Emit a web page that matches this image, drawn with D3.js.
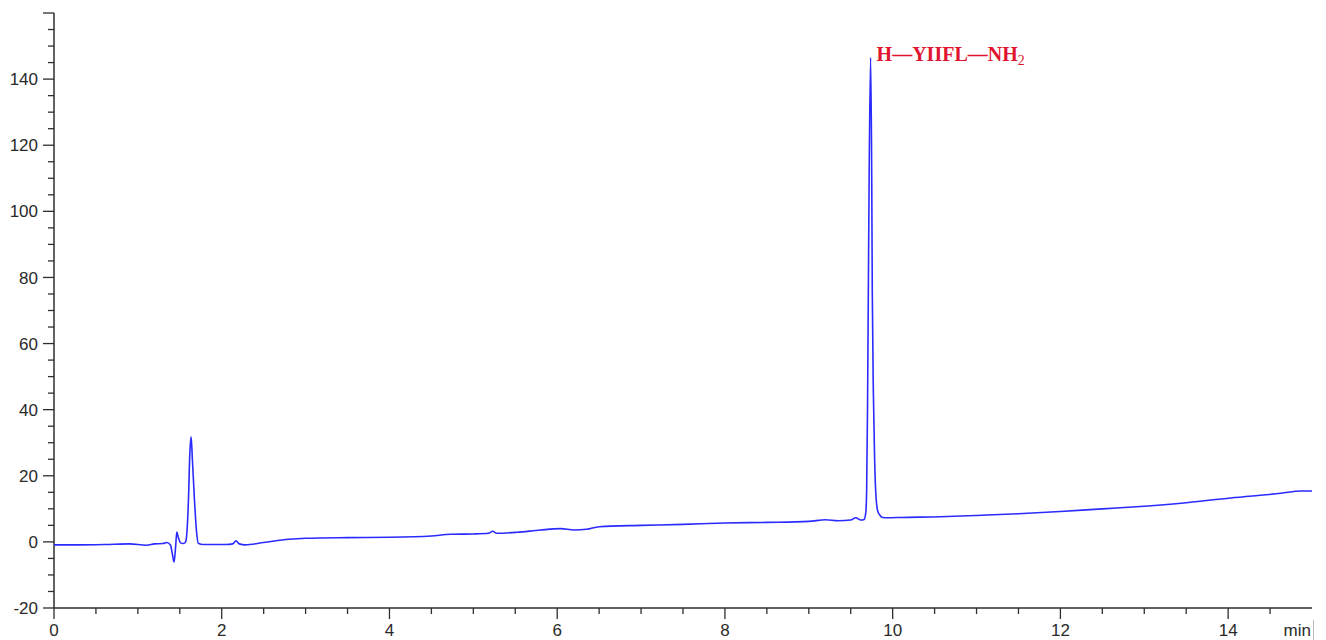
<!DOCTYPE html>
<html>
<head>
<meta charset="utf-8">
<script src="https://cdn.jsdelivr.net/npm/d3@7"></script>
<style>
  html, body { margin: 0; padding: 0; background: #fff; }
  svg { display: block; }
</style>
</head>
<body>
<svg id="chart" width="1326" height="640"></svg>
<script>
// ---- data ----
const times = [0, 0.3, 0.6, 0.9, 1.1, 1.2, 1.3, 1.345, 1.39, 1.41, 1.432, 1.45, 1.464, 1.48, 1.51, 1.543,
  1.57, 1.59, 1.603, 1.62, 1.635, 1.65, 1.675, 1.70, 1.72, 1.78, 1.9, 2.05, 2.13, 2.17, 2.21, 2.28, 2.5,
  2.8, 3.0, 3.5, 4.0, 4.5, 4.73, 5.0, 5.18, 5.23, 5.28, 5.52, 5.8, 6.04, 6.2, 6.35, 6.5, 7.0, 7.5, 8.0,
  8.5, 9.0, 9.2, 9.35, 9.5, 9.56, 9.62, 9.66, 9.68, 9.69, 9.70, 9.71, 9.72, 9.737, 9.75, 9.757, 9.77,
  9.785, 9.797, 9.82, 9.85, 9.88, 9.95, 10.1, 10.57, 11.0, 11.5, 12.0, 12.5, 13.0, 13.44, 14.03, 14.63,
  14.87, 15.0];
const signal = [-0.9, -0.9, -0.8, -0.6, -1.0, -0.6, -0.5, -0.2, -1.0, -3.5, -6.1, -1.5, 3.0, 1.5, -0.3, -0.5,
  0, 5, 12.6, 27, 31.8, 25, 12.6, 3, -0.4, -0.8, -0.8, -0.8, -0.6, 0.3, -0.6, -0.9, -0.2,
  0.8, 1.1, 1.3, 1.4, 1.8, 2.3, 2.4, 2.6, 3.2, 2.6, 2.9, 3.6, 4.0, 3.6, 3.8, 4.6, 5.0, 5.3, 5.7,
  5.9, 6.2, 6.7, 6.4, 6.6, 7.3, 6.6, 6.8, 9, 16, 40, 76, 112, 146.5, 112, 76, 45,
  25, 15.6, 9.5, 8, 7.4, 7.3, 7.4, 7.6, 8.0, 8.5, 9.2, 10.0, 10.8, 11.7, 13.3, 14.7,
  15.4, 15.4];
const xTickValues = [0, 2, 4, 6, 8, 10, 12, 14];
const yTickValues = [-20, 0, 20, 40, 60, 80, 100, 120, 140];
const xDomain = [0, 15];
const yDomain = [-20, 160];
const xUnit = "min";
const peakLabel = { time: 9.737, main: "H\u2014YIIFL\u2014NH", sub: "2" };

// ---- layout ----
const svg = d3.select("#chart");
const mLeft = 54, mRight = 1312, mTop = 13, mBottom = 608;
const x = d3.scaleLinear().domain(xDomain).range([mLeft, mRight]);
const y = d3.scaleLinear().domain(yDomain).range([mBottom, mTop]);
const axisColor = "#2e2e2e";
const font = "'Liberation Sans', Arial, sans-serif";

// minor ticks
const xMinor = d3.range(xDomain[0], xDomain[1], 0.5).filter(v => v % 2 !== 0);
const yMinor = d3.range(yDomain[0], yDomain[1] + 0.01, 5).filter(v => v % 20 !== 0);

// x axis
const gx = svg.append("g").attr("transform", `translate(0,${mBottom})`);
gx.append("line").attr("x1", mLeft).attr("x2", mRight).attr("y1", 0).attr("y2", 0)
  .attr("stroke", axisColor).attr("stroke-width", 1.5);
gx.selectAll("line.minor").data(xMinor).join("line").attr("class", "minor")
  .attr("x1", d => x(d)).attr("x2", d => x(d)).attr("y1", 0).attr("y2", 6)
  .attr("stroke", axisColor).attr("stroke-width", 1.3);
gx.selectAll("line.major").data(xTickValues).join("line").attr("class", "major")
  .attr("x1", d => x(d)).attr("x2", d => x(d)).attr("y1", 0).attr("y2", 11)
  .attr("stroke", axisColor).attr("stroke-width", 1.3);
gx.selectAll("text").data(xTickValues).join("text")
  .attr("x", d => x(d)).attr("y", 28).attr("text-anchor", "middle")
  .attr("font-family", font).attr("font-size", 17).attr("fill", "#2a2a2a")
  .text(d => d);
svg.append("text").attr("x", 1311).attr("y", 636).attr("text-anchor", "end")
  .attr("font-family", font).attr("font-size", 17).attr("fill", "#2a2a2a").text(xUnit);
svg.append("line").attr("x1", 1313.5).attr("x2", 1313.5).attr("y1", 620).attr("y2", 640)
  .attr("stroke", "#bbb").attr("stroke-width", 1);

// y axis
const gy = svg.append("g").attr("transform", `translate(${mLeft},0)`);
gy.append("line").attr("x1", 0).attr("x2", 0).attr("y1", mTop).attr("y2", mBottom)
  .attr("stroke", axisColor).attr("stroke-width", 1.5);
gy.selectAll("line.minor").data(yMinor).join("line").attr("class", "minor")
  .attr("x1", 0).attr("x2", -6).attr("y1", d => y(d)).attr("y2", d => y(d))
  .attr("stroke", axisColor).attr("stroke-width", 1.3);
gy.selectAll("line.major").data(yTickValues.concat([yDomain[1]])).join("line").attr("class", "major")
  .attr("x1", 0).attr("x2", -11).attr("y1", d => y(d)).attr("y2", d => y(d))
  .attr("stroke", axisColor).attr("stroke-width", 1.3);
gy.selectAll("text").data(yTickValues).join("text")
  .attr("x", -16).attr("y", d => y(d)).attr("dy", "0.36em").attr("text-anchor", "end")
  .attr("font-family", font).attr("font-size", 17).attr("fill", "#2a2a2a")
  .text(d => d);

// trace
const pts = times.map((t, i) => [t, signal[i]]);
const line = d3.line().x(d => x(d[0])).y(d => y(d[1])).curve(d3.curveMonotoneX);
svg.append("path").datum(pts).attr("d", line)
  .attr("fill", "none").attr("stroke", "#2b2bff").attr("stroke-width", 1.6)
  .attr("stroke-linejoin", "round");

// peak label
const lbl = svg.append("text").attr("x", x(peakLabel.time) + 6).attr("y", 61)
  .attr("font-family", "'Liberation Serif', 'Times New Roman', serif")
  .attr("font-size", 20).attr("font-weight", "bold").attr("fill", "#e0142e");
lbl.append("tspan").text(peakLabel.main);
lbl.append("tspan").attr("font-size", 14).attr("font-weight", "normal").attr("dy", 4).text(peakLabel.sub);
</script>
</body>
</html>
